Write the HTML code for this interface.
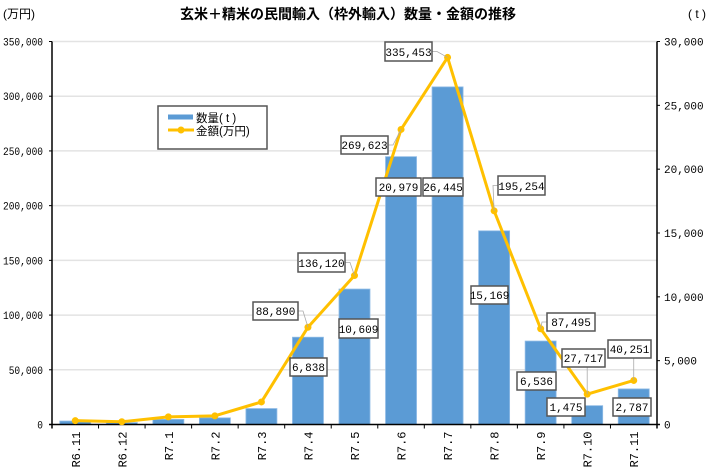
<!DOCTYPE html>
<html><head><meta charset="utf-8"><style>
html,body{margin:0;padding:0;background:#fff;}
svg{display:block;}
text{font-family:"Liberation Mono","Noto Sans CJK JP",monospace;font-size:10.5px;fill:#000;}
.t{font-family:"Liberation Sans","Noto Sans CJK JP",sans-serif;}
</style></head><body>
<svg id="s" width="706" height="476" viewBox="0 0 706 476" xmlns="http://www.w3.org/2000/svg">
<text class="t" x="348" y="19" text-anchor="middle" style="font-size:14px;font-weight:bold">玄米＋精米の民間輸入（枠外輸入）数量・金額の推移</text>
<text class="t" x="3" y="18" style="font-size:12px">(万円)</text>
<text class="t" x="688" y="18" style="font-size:12px">( t )</text>
<g id="g"></g>
</svg>
<script>
var ns="http://www.w3.org/2000/svg",g=document.getElementById('g');
function el(n,a,t){var e=document.createElementNS(ns,n);for(var k in a)e.setAttribute(k,a[k]);if(t!==undefined)e.textContent=t;g.appendChild(e);return e;}
var L=52,R=657,T=41.5,B=424.5,H=B-T,W=(R-L)/13;
var cats=["R6.11","R6.12","R7.1","R7.2","R7.3","R7.4","R7.5","R7.6","R7.7","R7.8","R7.9","R7.10","R7.11"];
var q=[270,150,400,520,1250,6838,10609,20979,26445,15169,6536,1475,2787];
var m=[3500,2500,7000,7900,20600,88890,136120,269623,335453,195254,87495,27717,40251];
function fmt(v){return v.toLocaleString('en-US');}
for(var i=0;i<=7;i++){var y=B-H*i/7;
 if(i>0)el('line',{x1:L,x2:R,y1:y,y2:y,stroke:'#e3e3e3','stroke-width':1.5});
 var s=fmt(i*50000);
 el('text',{x:43-s.length*40/7,y:y+4,textLength:s.length*40/7,lengthAdjust:'spacingAndGlyphs',style:'font-size:11px'},s);
 el('line',{x1:L-3,x2:L,y1:y,y2:y,stroke:'#000'});}
for(var i=0;i<=6;i++){var y=B-H*i/6;
 el('text',{x:664,y:y+4,style:'font-size:11px'},fmt(i*5000));
 el('line',{x1:R,x2:R+3,y1:y,y2:y,stroke:'#000'});}
var pts=[];
for(var i=0;i<13;i++){var cx=L+W*(i+0.5),h=H*q[i]/30000;
 el('rect',{x:cx-15.5,y:B-h,width:31,height:h,fill:'#5B9BD5',stroke:'#8fbbe6','stroke-width':0.8});
 pts.push([cx,B-H*m[i]/350000]);
 var ty=B+7;
 el('text',{x:0,y:0,transform:'translate('+(cx+4.5)+','+ty+') rotate(-90)','text-anchor':'end',style:'font-size:12px'},cats[i]);
 el('line',{x1:L+W*(i+1),x2:L+W*(i+1),y1:B,y2:B+4,stroke:'#000'});}
el('line',{x1:L,x2:L,y1:T,y2:B+4,stroke:'#000','stroke-width':1.5});
el('line',{x1:R,x2:R,y1:T,y2:B+4,stroke:'#000','stroke-width':1.5});
el('line',{x1:L-3,x2:R+3,y1:B,y2:B,stroke:'#000','stroke-width':1.5});
el('polyline',{points:pts.map(function(p){return p.join(',')}).join(' '),fill:'none',stroke:'#FFC000','stroke-width':3,'stroke-linejoin':'round'});
pts.forEach(function(p){el('circle',{cx:p[0],cy:p[1],r:3.5,fill:'#FFC000'});});
var labs=[[253,302,298,320,"88,890",5],[290,358,327,376,"6,838",-1],[298,253,345,272,"136,120",6],[339,319,378,338,"10,609",-1],
[341,136,388,154,"269,623",7],[376,178,421,196,"20,979",-1],[385,42,432,61,"335,453",8],[423,178,463,196,"26,445",-1],
[498,176,545,195,"195,254",9],[471,286,508,304,"15,169",-1],[547,313,595,331,"87,495",10],[517,372,556,390,"6,536",-1],
[562,349,605,367,"27,717",11],[547,398,585,416,"1,475",-1],[608,340,651,358,"40,251",12],[613,398,651,416,"2,787",-1]];
labs.forEach(function(b){
 if(b[5]>=0){var p=pts[b[5]],sx,sy;
  if(p[0]>b[2]){sx=b[2];sy=(b[1]+b[3])/2;el('polyline',{points:sx+','+sy+' '+(sx+5)+','+sy+' '+p[0]+','+p[1],fill:'none',stroke:'#aaa','stroke-width':0.8});}
  else if(p[0]<b[0]){sx=b[0];sy=(b[1]+b[3])/2;el('polyline',{points:sx+','+sy+' '+(sx-5)+','+sy+' '+p[0]+','+p[1],fill:'none',stroke:'#aaa','stroke-width':0.8});}
  else{sx=p[0];sy=b[3];el('line',{x1:sx,y1:sy,x2:p[0],y2:p[1],stroke:'#aaa','stroke-width':0.8});}}
 el('rect',{x:b[0],y:b[1],width:b[2]-b[0],height:b[3]-b[1],fill:'#fff',stroke:'#555','stroke-width':1.5});
 el('text',{x:(b[0]+b[2])/2,y:b[3]-5,'text-anchor':'middle',style:'font-size:11px'},b[4]);});
el('rect',{x:158,y:106,width:109,height:43,fill:'#fff',stroke:'#555','stroke-width':1.5});
el('rect',{x:168,y:114.5,width:25,height:5,fill:'#5B9BD5'});
el('text',{x:196,y:122,class:'t',style:'font-size:11.5px'},"数量( t )");
el('line',{x1:168,x2:194,y1:130,y2:130,stroke:'#FFC000','stroke-width':3});
el('circle',{cx:181,cy:130,r:3.5,fill:'#FFC000'});
el('text',{x:196,y:135,class:'t',style:'font-size:11.5px'},"金額(万円)");
</script>
</body></html>
